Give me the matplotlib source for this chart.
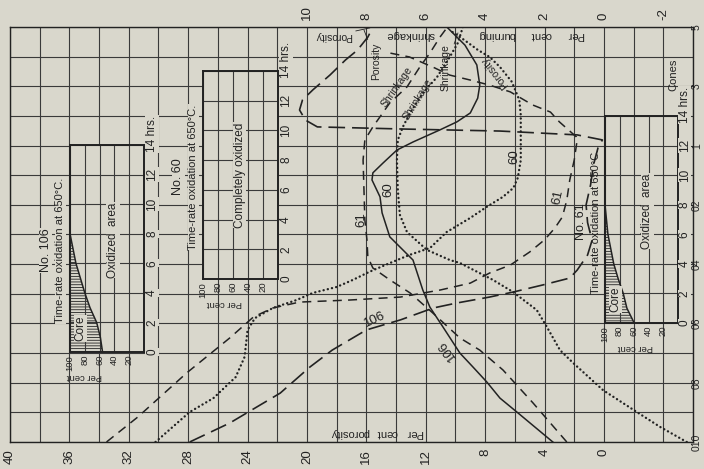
import matplotlib.pyplot as plt

plt.rcParams['font.family'] = ['Liberation Sans', 'DejaVu Sans']
plt.rcParams['lines.scale_dashes'] = False
plt.rcParams['hatch.linewidth'] = 0.6

PAPER = '#d9d7cc'
INK = '#222222'
GRID = '#3a3a3a'

# firing scale: one grid row per half cone, cone 010 at row 0, cone 5 at row 14
cone_rows = [0, 2, 4, 6, 8, 10, 12, 14]
cone_labels = ['010', '08', '06', '04', '02', '1', '3', '5']
porosity_ticks = [40, 36, 32, 28, 24, 20, 16, 12, 8, 4, 0]
shrinkage_ticks = [10, 8, 6, 4, 2, 0, -2]

# per cent porosity
por106_row = [0, 0.64, 1.65, 2.53, 3.1, 3.78, 4.12, 4.52, 4.69, 4.89, 5.06, 5.3, 5.53, 5.8,
              6.31, 6.8, 7.4, 8.0, 8.67, 9.35, 9.92, 10.19, 10.36, 10.49, 10.56, 10.63,
              10.86, 11.2, 11.54, 11.88, 12.38, 12.89, 13.22, 13.66, 14.0]
por106 = [27.9, 25.2, 21.8, 19.8, 18.3, 16.0, 13.7, 11.5, 9.9, 7.7, 6.1, 4.1, 2.3, 1.8,
          1.1, 0.8, 1.1, 1.2, 0.9, 0.7, 0.4, 0.1, 1.8, 7.0, 13.7, 19.3,
          20.1, 20.5, 20.3, 19.6, 18.45, 17.4, 16.6, 15.9, 15.55]

por61_row = [0, 0.84, 2.33, 3.51, 4.22, 4.52, 4.72, 4.79, 4.89, 5.13, 5.36, 5.7, 5.97,
             6.41, 6.82, 7.22, 7.59, 8.16, 8.84, 9.51, 10.19, 10.29, 10.8, 11.13, 11.37,
             11.81, 12.04, 12.21, 12.38, 12.62, 12.99, 13.12]
por61 = [33.5, 31.4, 28.1, 25.2, 23.6, 22.3, 20.5, 17.1, 13.7, 11.0, 9.0, 7.7, 6.3,
         5.0, 4.0, 3.3, 2.8, 2.5, 2.3, 2.0, 1.8, 1.85, 3.0, 3.6, 4.8,
         6.3, 7.7, 9.0, 10.4, 11.4, 13.1, 14.4]

por60_row = [0, 1.01, 1.48, 2.19, 2.87, 3.78, 4.18, 4.52, 4.79, 5.03, 5.23, 5.47, 5.74,
             6.04, 6.31, 6.55, 7.08, 7.56, 7.93, 8.27, 8.57, 8.91, 9.51, 10.19, 11.03,
             11.54, 12.15, 12.65, 12.99, 13.23, 13.56, 13.9]
por60 = [30.2, 27.9, 26.3, 24.8, 24.2, 24.0, 23.5, 22.3, 20.7, 19.6, 18.0, 16.9, 15.8,
         14.4, 13.1, 11.7, 10.6, 9.0, 7.9, 6.8, 6.1, 5.8, 5.6, 5.6, 5.6,
         5.7, 6.2, 7.0, 7.7, 8.5, 9.4, 10.4]

# per cent burning shrinkage
shr106_row = [0, 1.01, 1.48, 2.02, 2.53, 3.0, 3.88, 4.55, 5.13, 6.14, 6.48, 6.92, 7.73,
              8.27, 8.84, 9.08, 9.41, 9.85, 10.12, 10.53, 10.8, 11.1, 11.6, 12.04, 12.72,
              13.39, 14.0]
shr106 = [1.72, 2.93, 3.5, 3.94, 4.41, 4.85, 5.42, 5.86, 6.1, 6.43, 6.77, 7.21, 7.47,
          7.54, 7.81, 7.78, 7.44, 6.97, 6.43, 5.52, 4.95, 4.5, 4.25, 4.18, 4.28,
          4.68, 5.29]

shr61_row = [0, 1.32, 2.43, 3.1, 3.51, 4.35, 5.03, 5.47, 5.87, 6.24, 6.82, 7.49, 8.5,
             9.51, 10.19, 10.63, 11.44, 11.98, 12.65, 13.12, 13.66, 13.97]
shr61 = [1.25, 2.39, 3.4, 4.18, 4.85, 5.76, 6.53, 7.21, 7.78, 7.95, 7.98, 8.05, 8.08,
         8.11, 8.05, 7.78, 7.21, 6.63, 6.2, 5.86, 5.52, 5.29]

shr60_row = [0, 0.51, 1.01, 1.75, 2.67, 3.1, 3.88, 4.45, 5.06, 5.47, 6.04, 6.14, 6.48,
             7.08, 7.66, 8.5, 9.51, 10.19, 10.63, 11.1, 11.77, 12.31, 12.99, 13.46, 14.0]
shr60 = [-2.79, -1.89, -1.11, 0.03, 1.04, 1.48, 1.92, 2.26, 3.06, 3.74, 4.85, 5.19, 5.96,
         6.63, 6.87, 6.94, 6.97, 6.94, 6.77, 6.53, 6.1, 5.62, 5.19, 4.92, 4.75]

# time-rate oxidation insets: hours vs. per cent of section still core
core_hours = [0, 1, 2, 3, 4, 5, 6, 7, 8]
core106 = [56, 59, 64, 73, 80, 86, 92, 96, 100]
core61 = [60, 70, 75, 82, 88, 92, 96, 98, 100]
inset_hours = [0, 2, 4, 6, 8, 10, 12, 14]
inset_pct = [100, 80, 60, 40, 20]

LONG = (0, (12, 5))
MED = (0, (6.5, 4.5))
DOT = (0, (0.1, 3.0))

W, H = 704, 469
fig = plt.figure(figsize=(W / 100, H / 100), dpi=100, facecolor=PAPER)


def frame(left, top, right, bottom):
    return [left / W, 1 - bottom / H, (right - left) / W, (bottom - top) / H]


ax = fig.add_axes(frame(10, 27, 693, 442), facecolor=PAPER)
ax.set_xlim(40, -6)
ax.set_ylim(0, 14)
ax.set_xticks(range(-6, 41, 2), minor=True)
ax.set_yticks(range(0, 15), minor=True)
ax.set_xticks(porosity_ticks, [str(v) for v in porosity_ticks])
ax.set_yticks(cone_rows, cone_labels)
ax.yaxis.tick_right()
ax.grid(which='both', color=GRID, lw=0.8)
ax.tick_params(which='both', length=0, labelsize=9.5, colors=INK)
ax.tick_params(axis='x', labelrotation=90, pad=5)
ax.tick_params(axis='y', pad=-0.8, labelsize=7.5)
for lbl in ax.get_yticklabels():
    lbl.set_rotation(90)
    lbl.set_va('center')
for sp in ax.spines.values():
    sp.set_color(INK)
    sp.set_linewidth(1.0)

ax2 = ax.twiny()
ax2.set_xlim(20, -3)
ax2.set_xticks(shrinkage_ticks, [str(v) for v in shrinkage_ticks])
ax2.tick_params(length=0, labelsize=9.5, colors=INK, labelrotation=90, pad=5)
for sp in ax2.spines.values():
    sp.set_visible(False)

# porosity curves
ax.plot(por106, por106_row, color=INK, lw=1.2, linestyle=LONG)
ax.plot(por61, por61_row, color=INK, lw=1.1, linestyle=MED)
ax.plot(por60, por60_row, color=INK, lw=1.7, linestyle=DOT, dash_capstyle='round')

# shrinkage curves
ax2.plot(shr106, shr106_row, color=INK, lw=1.1)
ax2.plot(shr61, shr61_row, color=INK, lw=1.1, linestyle=MED)
ax2.plot(shr60, shr60_row, color=INK, lw=1.7, linestyle=DOT, dash_capstyle='round')

# curve labels
lab = dict(color=INK, ha='center', va='center')
ax.text(15.4, 4.12, '106', fontsize=9.5, rotation=25, **lab)
ax.text(10.6, 3.1, '106', fontsize=9.5, rotation=127, **lab)
ax.text(14.55, 8.5, '60', fontsize=9.5, rotation=90, **lab)
ax.text(6.06, 9.62, '60', fontsize=9.5, rotation=90, **lab)
ax.text(16.36, 7.49, '61', fontsize=9.5, rotation=90, **lab)
ax.text(3.1, 8.27, '61', fontsize=9.5, rotation=78, **lab)
ax.text(13.94, 11.98, 'Shrinkage', fontsize=7.5, rotation=55, **lab)
ax.text(12.53, 11.54, 'Shrinkage', fontsize=7.5, rotation=58, **lab)
ax.text(7.34, 12.48, 'Porosity', fontsize=7.5, rotation=128, **lab)
lead = dict(arrowstyle='-', color=INK, lw=0.6, shrinkA=1, shrinkB=0)
ax.annotate('Shrinkage', xy=(9.83, 13.8), xytext=(10.64, 12.62), fontsize=7.5,
            rotation=90, arrowprops=lead, **lab)
ax.annotate('Porosity', xy=(16.16, 13.9), xytext=(15.35, 12.85), fontsize=7.5,
            rotation=90, arrowprops=lead, **lab)
ax.annotate('Porosity', xy=(15.76, 13.97), xytext=(18.25, 13.7), fontsize=7.5,
            rotation=180, arrowprops=lead, **lab)

# axis titles written along the grid
for word, p in [('Per', 12.73), ('cent', 14.6), ('porosity', 17.1)]:
    ax.text(p, 0.3, word, fontsize=8, rotation=180, **lab)
for word, p in [('Per', 1.95), ('cent', 4.24), ('burning', 7.2), ('shrinkage', 13.06)]:
    ax.text(p, 13.73, word, fontsize=8, rotation=180, **lab)
ax.text(-4.7, 12.38, 'Cones', fontsize=8, rotation=90, **lab)

tag = dict(boxstyle='square,pad=0.05', fc=PAPER, ec='none')


def oxidation_inset(box, number, core, pct_label_x, hour_dx=5.8, bg=True):
    a = fig.add_axes(frame(*box), facecolor=PAPER)
    a.set_xlim(100, 0)
    a.set_ylim(0, 14)
    a.set_xticks(inset_pct, [str(v) for v in inset_pct])
    a.set_yticks(inset_hours)
    a.grid(color=GRID, lw=0.8)
    a.tick_params(length=0, labelleft=False, labelsize=6.8, colors=INK)
    a.tick_params(axis='x', labelrotation=90, pad=2)
    for sp in a.spines.values():
        sp.set_color(INK)
        sp.set_linewidth(1.4)
    yt = a.get_yaxis_transform()
    for h in inset_hours[:-1]:
        a.annotate(str(h), xy=(1, h), xycoords=yt, xytext=(hour_dx, 0),
                   textcoords='offset points', rotation=90, fontsize=8.5,
                   ha='center', va='center', color=INK, bbox=tag)
    a.annotate('14 hrs.', xy=(1, 14), xycoords=yt, xytext=(hour_dx, -5),
               textcoords='offset points', rotation=90, rotation_mode='anchor',
               fontsize=8.5, ha='left', va='center', color=INK, bbox=tag)
    a.text(pct_label_x, -0.116, 'Per cent', transform=a.transAxes, fontsize=6.8,
           rotation=180, ha='center', va='center', color=INK)
    box_style = tag if bg else None
    a.text(-0.33, 0.49, f'No. {number}', transform=a.transAxes, fontsize=9,
           rotation=90, ha='center', va='center', color=INK, bbox=box_style)
    a.text(-0.13, 0.49, 'Time-rate oxidation at 650\u00b0C.', transform=a.transAxes,
           fontsize=8, rotation=90, ha='center', va='center', color=INK, bbox=box_style)
    if core is None:
        a.text(0.49, 0.5, 'Completely oxidized', transform=a.transAxes, fontsize=8.5,
               rotation=90, ha='center', va='center', color=INK, bbox=tag)
    else:
        a.fill_betweenx(core_hours, 100, core, facecolor='none', edgecolor=INK,
                        hatch='------', linewidth=0)
        a.plot(core, core_hours, color=INK, lw=1.1)
        a.text(0.14, 0.115, 'Core', transform=a.transAxes, fontsize=8.5,
               rotation=90, ha='center', va='center', color=INK, bbox=tag)
        a.text(0.58, 0.54, 'Oxidized  area', transform=a.transAxes, fontsize=8.5,
               rotation=90, ha='center', va='center', color=INK, bbox=tag)
    return a


oxidation_inset((70, 145, 144, 352), 106, core106, 0.2)
oxidation_inset((203, 71, 278, 279), 60, None, 0.29)
oxidation_inset((605, 116, 678, 323), 61, core61, 0.41, hour_dx=4.9, bg=False)

fig.savefig('out.png', dpi=100, facecolor=PAPER)
